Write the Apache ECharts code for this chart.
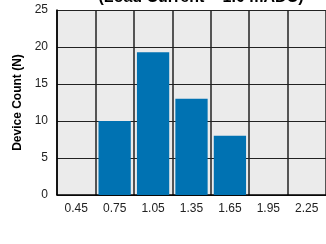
<!DOCTYPE html>
<html>
<head>
<meta charset="utf-8">
<script src="https://cdn.jsdelivr.net/npm/echarts@6/dist/echarts.min.js"></script>
<style>
    html, body { margin: 0; padding: 0; background: #fff; }
    #chart { width: 326px; height: 244px; }
</style>
</head>
<body>
<div id="chart"></div>
<script>
// 负载电流分布
const categories = ['0.45', '0.75', '1.05', '1.35', '1.65', '1.95', '2.25']
const deviceCount = [0, 10, 19.3, 13, 8, 0, 0]
const yTicks = [0, 5, 10, 15, 20, 25]

const myChart = echarts.init(document.getElementById('chart'))
const font = 'Liberation Sans, Arial, sans-serif'

myChart.setOption({
    animation: false,
    title: {
        text: '(Load Current = 1.0 mADC)',
        left: 196,
        textAlign: 'center',
        top: -15,
        textStyle: { fontFamily: font, fontSize: 16, fontWeight: 'bold', color: '#000' }
    },
    grid: {
        left: 57,
        right: -7,
        top: 10,
        bottom: 49,
        show: true,
        backgroundColor: '#ebebeb',
        borderWidth: 0
    },
    xAxis: {
        type: 'category',
        data: categories,
        axisLine: { lineStyle: { color: '#000', width: 1.5 } },
        axisTick: { show: false },
        axisLabel: { fontFamily: font, fontSize: 12, color: '#222', margin: 8 },
        splitLine: { show: true, lineStyle: { color: '#222', width: 1.5 } }
    },
    yAxis: {
        type: 'value',
        min: yTicks[0],
        max: yTicks[yTicks.length - 1],
        interval: 5,
        name: 'Device Count (N)',
        nameLocation: 'middle',
        nameGap: 24,
        nameTextStyle: { fontFamily: font, fontSize: 12, fontWeight: 'bold', color: '#000' },
        axisLine: { show: true, lineStyle: { color: '#000', width: 1.5 } },
        axisTick: { show: false },
        axisLabel: { fontFamily: font, fontSize: 12, color: '#222', margin: 9 },
        splitLine: { show: true, lineStyle: { color: '#222', width: 1 } }
    },
    series: [{
        type: 'bar',
        data: deviceCount,
        barWidth: '84%',
        itemStyle: { color: '#0072b2' }
    }]
})
</script>
</body>
</html>
